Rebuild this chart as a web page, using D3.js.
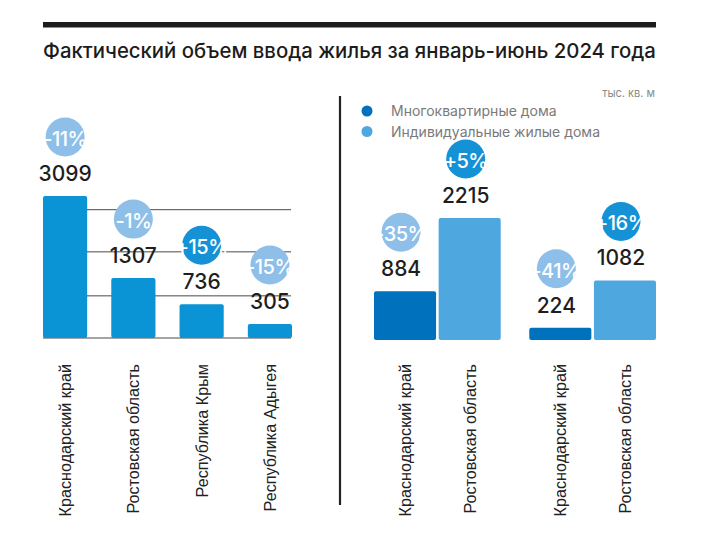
<!DOCTYPE html>
<html><head><meta charset="utf-8">
<script src="https://cdn.jsdelivr.net/npm/d3@7"></script>
<style>html,body{margin:0;padding:0;background:#fff;}svg{display:block;}</style>
</head><body>
<svg id="c" width="710" height="537"></svg>
<script>
// ---- data ----
const title = "Фактический объем ввода жилья за январь-июнь 2024 года";
const unitLabel = "тыс. кв. м";
const leftRegions = ["Краснодарский край","Ростовская область","Республика Крым","Республика Адыгея"];
const leftValues = [3099, 1307, 736, 305];
const leftChanges = ["-11%", "-1%", "+15%", "-15%"];
const gridValues = [920, 1880, 2800];
const seriesNames = ["Многоквартирные дома", "Индивидуальные жилые дома"];
const rightGroups = ["g1", "g2"];
const rightLabels = ["Краснодарский край","Ростовская область","Краснодарский край","Ростовская область"];
const rightSeries = [0, 1, 0, 1];
const rightValues = [884, 2215, 224, 1082];
const rightChanges = ["-35%", "+5%", "-41%", "+16%"];

// ---- styles ----
const leftBarColor = "#0a93d5";
const seriesColors = ["#0071bc", "#4ea8df"];
const posColor = "#1592d6", negColor = "#8dbfe9";
const valFont = "Inter, 'Noto Sans', sans-serif";

const svg = d3.select("#c");

// top bar and title
svg.append("rect").attr("x",43).attr("y",22).attr("width",613).attr("height",5.5).attr("fill","#1c1c1c");
const t = svg.append("text").attr("x",43).attr("y",58).attr("fill","#1c1c1c")
  .attr("font-family",valFont).attr("font-weight",500).attr("font-size",20).text(title);
const tw = t.node().getComputedTextLength();
t.attr("font-size", 20*613/tw);

svg.append("text").attr("x",655).attr("y",97).attr("text-anchor","end").attr("fill","#8a8a8a")
  .attr("font-family",valFont).attr("font-size",11).text(unitLabel);

// divider
svg.append("line").attr("x1",340).attr("x2",340).attr("y1",96).attr("y2",505)
  .attr("stroke","#222").attr("stroke-width",2.2);

// ---- left panel ----
const xL = d3.scaleBand().domain(leftRegions).range([43, 292]).paddingInner(0.353).paddingOuter(0);
const yL = d3.scaleLinear().domain([0, 3099]).range([338, 196]);

const gL = svg.append("g");
gL.selectAll("line.grid").data(gridValues).join("line").attr("class","grid")
  .attr("x1",43).attr("x2",291).attr("y1",d=>yL(d)).attr("y2",d=>yL(d))
  .attr("stroke","#4a4a4a").attr("stroke-width",1);
gL.append("line").attr("x1",43).attr("x2",291).attr("y1",yL(0)).attr("y2",yL(0))
  .attr("stroke","#4a4a4a").attr("stroke-width",1);

const leftData = leftRegions.map((r,i)=>({label:r, value:leftValues[i], change:leftChanges[i]}));
gL.selectAll("rect.bar").data(leftData).join("rect").attr("class","bar")
  .attr("x",d=>xL(d.label)).attr("width",xL.bandwidth())
  .attr("y",d=>yL(d.value)).attr("height",d=>yL(0)-yL(d.value))
  .attr("rx",2).attr("fill",leftBarColor);

function annotate(g, data, xc, ytop) {
  g.selectAll("text.val").data(data).join("text").attr("class","val")
    .attr("x",d=>xc(d)).attr("y",d=>ytop(d)-15).attr("text-anchor","middle")
    .attr("font-family",valFont).attr("font-weight",500).attr("font-size",21).attr("fill","#1e1e1e")
    .text(d=>d.value);
  g.selectAll("circle.chg").data(data).join("circle").attr("class","chg")
    .attr("cx",d=>xc(d)).attr("cy",d=>ytop(d)-59).attr("r",19.5)
    .attr("fill",d=>d.change.startsWith("+")?posColor:negColor);
  g.selectAll("text.chg").data(data).join("text").attr("class","chg")
    .attr("x",d=>xc(d)).attr("y",d=>ytop(d)-59+9).attr("text-anchor","middle")
    .attr("font-family",valFont).attr("font-weight",500).attr("font-size",20).attr("fill","#fff")
    .attr("letter-spacing",-0.5)
    .text(d=>d.change);
}
annotate(gL, leftData, d=>xL(d.label)+xL.bandwidth()/2, d=>yL(d.value));

function xLabels(g, data, xc) {
  g.selectAll("text.xl").data(data).join("text").attr("class","xl")
    .attr("transform",d=>`translate(${xc(d)+6},364) rotate(-90)`)
    .attr("text-anchor","end").attr("font-family","'Liberation Sans', Arial, sans-serif")
    .attr("font-size",16.2).attr("fill","#222").text(d=>d.label);
}
xLabels(gL, leftData, d=>xL(d.label)+xL.bandwidth()/2);

// ---- right panel ----
const rightData = rightValues.map((v,i)=>({label:rightLabels[i], series:rightSeries[i], value:v,
  change:rightChanges[i], group:rightGroups[Math.floor(i/2)]}));
const x0 = d3.scaleBand().domain(rightGroups).range([374, 656]).paddingInner(0.184).paddingOuter(0);
const x1 = d3.scaleBand().domain(seriesNames.map((s,i)=>i)).range([0, x0.bandwidth()]).paddingInner(0.04);
const yR = d3.scaleLinear().domain([0, 2215]).range([340, 218]);
const gR = svg.append("g");
gR.selectAll("rect.bar").data(rightData).join("rect").attr("class","bar")
  .attr("x",d=>x0(d.group)+x1(d.series)).attr("width",x1.bandwidth())
  .attr("y",d=>yR(d.value)).attr("height",d=>yR(0)-yR(d.value))
  .attr("rx",2).attr("fill",d=>seriesColors[d.series]);
const xcR = d=>x0(d.group)+x1(d.series)+x1.bandwidth()/2 - 4;
annotate(gR, rightData, xcR, d=>yR(d.value));
xLabels(gR, rightData, d=>x0(d.group)+x1(d.series)+x1.bandwidth()/2);

// legend
const lg = svg.append("g");
lg.selectAll("circle").data(seriesNames).join("circle")
  .attr("cx",367).attr("cy",(d,i)=>111+i*20.5).attr("r",5.5).attr("fill",(d,i)=>seriesColors[i]);
lg.selectAll("text").data(seriesNames).join("text")
  .attr("x",391).attr("y",(d,i)=>116+i*20.5).attr("font-family",valFont).attr("font-size",14)
  .attr("fill","#7a7a7a").text(d=>d);
</script>
</body></html>
